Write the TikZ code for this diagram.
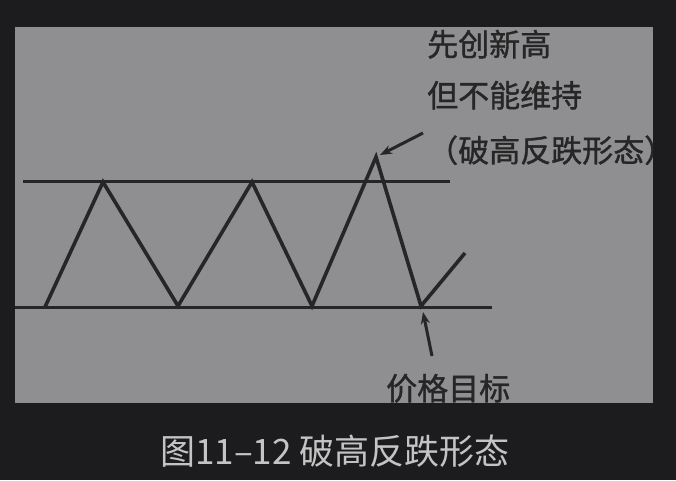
\documentclass[tikz,border=0pt]{standalone}
\usepackage{fontspec}
\setmainfont{Noto Sans CJK SC}
\newfontfamily\scanfont[FakeBold=1.2]{Noto Sans CJK SC}
\usetikzlibrary{arrows.meta}
\definecolor{bgdark}{HTML}{1C1C1E}
\definecolor{panelgray}{HTML}{8F8F91}
\definecolor{inkdark}{HTML}{262626}
\definecolor{captiongray}{HTML}{C4C4C4}
\tikzset{
  trend/.style={draw=inkdark,line width=3.6pt,line join=miter},
  level/.style={draw=inkdark,line width=3pt},
  pointer/.style={draw=inkdark,line width=3pt,-{Stealth[length=12pt,width=9pt]}},
  label/.style={text=inkdark,inner sep=0pt,font=\scanfont\fontsize{31}{31}\selectfont},
}
\begin{document}
\begin{tikzpicture}[x=1pt,y=-1pt]
\useasboundingbox (0,0) rectangle (676,480);
\fill[bgdark] (0,0) rectangle (676,480);
\fill[panelgray] (15,27) rectangle (653,403);
\begin{scope}
\clip (15,27) rectangle (653,403);
% levels
\coordinate (topL) at (23,181);
\coordinate (topR) at (450,181);
\coordinate (botL) at (15,307);
\coordinate (botR) at (492,307);
\draw[level] (topL) -- (topR);
\draw[level] (botL) -- (botR);
% price path
\coordinate (p0) at (45,307);
\coordinate (p1) at (103,182);
\coordinate (p2) at (178,306);
\coordinate (p3) at (252,182);
\coordinate (p4) at (312,306);
\coordinate (p5) at (376,157);
\coordinate (p6) at (421,306);
\coordinate (p7) at (465,253);
\draw[trend] (p0) -- (p1) -- (p2) -- (p3) -- (p4) -- (p5) -- (p6) -- (p7);
% texts
\node[label,anchor=base west] (new) at (427,56) {先创新高};
\node[label,anchor=base west] (hold) at (427,107) {但不能维持};
\node[label,anchor=base west] (pattern) at (427,162) {（破高反跌形态）};
\node[label,anchor=base west] (target) at (386,400) {价格目标};
% arrows
\coordinate (a1) at (423,133);
\coordinate (t1) at (380,155);
\draw[pointer] (a1) -- (t1);
\coordinate (a2) at (432,356);
\coordinate (t2) at (423,312);
\draw[pointer] (a2) -- (t2);
\end{scope}
\node[text=captiongray,inner sep=0pt,anchor=base west,font=\fontsize{35}{35}\selectfont] (caption) at (160,464) {图11–12 破高反跌形态};
\end{tikzpicture}
\end{document}
